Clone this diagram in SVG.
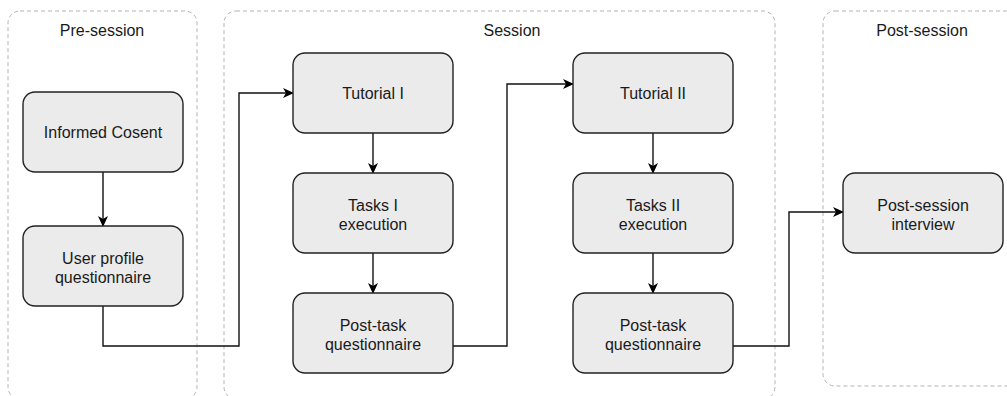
<svg xmlns="http://www.w3.org/2000/svg" width="1007" height="396" viewBox="0 0 1007 396">
<style>
.grp{fill:none;stroke:#b3b3b3;stroke-width:1;stroke-dasharray:4 3}
.node{fill:#ebebeb;stroke:#222;stroke-width:1.4}
.lbl{font-family:"Liberation Sans",Arial,sans-serif;font-size:16px;fill:#1a1a1a;text-anchor:middle}
.conn{fill:none;stroke:#111;stroke-width:1.4}
</style>
<defs>
<marker id="arr" viewBox="0 0 11 11" refX="10" refY="5.5" markerWidth="11" markerHeight="11" markerUnits="userSpaceOnUse" orient="auto">
<path d="M0,0.5 L11,5.5 L0,10.5 L3,5.5 Z" fill="#000"/>
</marker>
</defs>
<g id="pre-session">
<rect class="grp" x="8" y="11" width="189" height="388" rx="12"/>
<text class="lbl" x="102" y="36">Pre-session</text>
</g>
<g id="session">
<rect class="grp" x="224" y="11" width="551" height="388" rx="12"/>
<text class="lbl" x="512" y="36">Session</text>
</g>
<g id="post-session">
<rect class="grp" x="823" y="11" width="200" height="375" rx="12"/>
<text class="lbl" x="922" y="36">Post-session</text>
</g>
<g id="connectors">
<path class="conn" d="M103,172 V226" marker-end="url(#arr)"/>
<path class="conn" d="M103,306 V346 H239 V93 H293" marker-end="url(#arr)"/>
<path class="conn" d="M373,133 V173" marker-end="url(#arr)"/>
<path class="conn" d="M373,253 V293" marker-end="url(#arr)"/>
<path class="conn" d="M453,346 H507 V84 H573" marker-end="url(#arr)"/>
<path class="conn" d="M653,133 V173" marker-end="url(#arr)"/>
<path class="conn" d="M653,253 V293" marker-end="url(#arr)"/>
<path class="conn" d="M733,346 H789 V212 H843" marker-end="url(#arr)"/>
</g>
<g id="informed-consent">
<rect class="node" x="23" y="92" width="160" height="80" rx="12"/>
<text class="lbl" x="103" y="138">Informed Cosent</text>
</g>
<g id="user-profile">
<rect class="node" x="23" y="226" width="160" height="80" rx="12"/>
<text class="lbl" x="103" y="264">User profile</text>
<text class="lbl" x="103" y="283">questionnaire</text>
</g>
<g id="tutorial-1">
<rect class="node" x="293" y="53" width="160" height="80" rx="12"/>
<text class="lbl" x="373" y="99">Tutorial I</text>
</g>
<g id="tasks-1">
<rect class="node" x="293" y="173" width="160" height="80" rx="12"/>
<text class="lbl" x="373" y="211">Tasks I</text>
<text class="lbl" x="373" y="230">execution</text>
</g>
<g id="post-task-1">
<rect class="node" x="293" y="293" width="160" height="80" rx="12"/>
<text class="lbl" x="373" y="331">Post-task</text>
<text class="lbl" x="373" y="350">questionnaire</text>
</g>
<g id="tutorial-2">
<rect class="node" x="573" y="53" width="160" height="80" rx="12"/>
<text class="lbl" x="653" y="99">Tutorial II</text>
</g>
<g id="tasks-2">
<rect class="node" x="573" y="173" width="160" height="80" rx="12"/>
<text class="lbl" x="653" y="211">Tasks II</text>
<text class="lbl" x="653" y="230">execution</text>
</g>
<g id="post-task-2">
<rect class="node" x="573" y="293" width="160" height="80" rx="12"/>
<text class="lbl" x="653" y="331">Post-task</text>
<text class="lbl" x="653" y="350">questionnaire</text>
</g>
<g id="post-session-interview">
<rect class="node" x="843" y="173" width="160" height="80" rx="12"/>
<text class="lbl" x="923" y="211">Post-session</text>
<text class="lbl" x="923" y="230">interview</text>
</g>
</svg>
